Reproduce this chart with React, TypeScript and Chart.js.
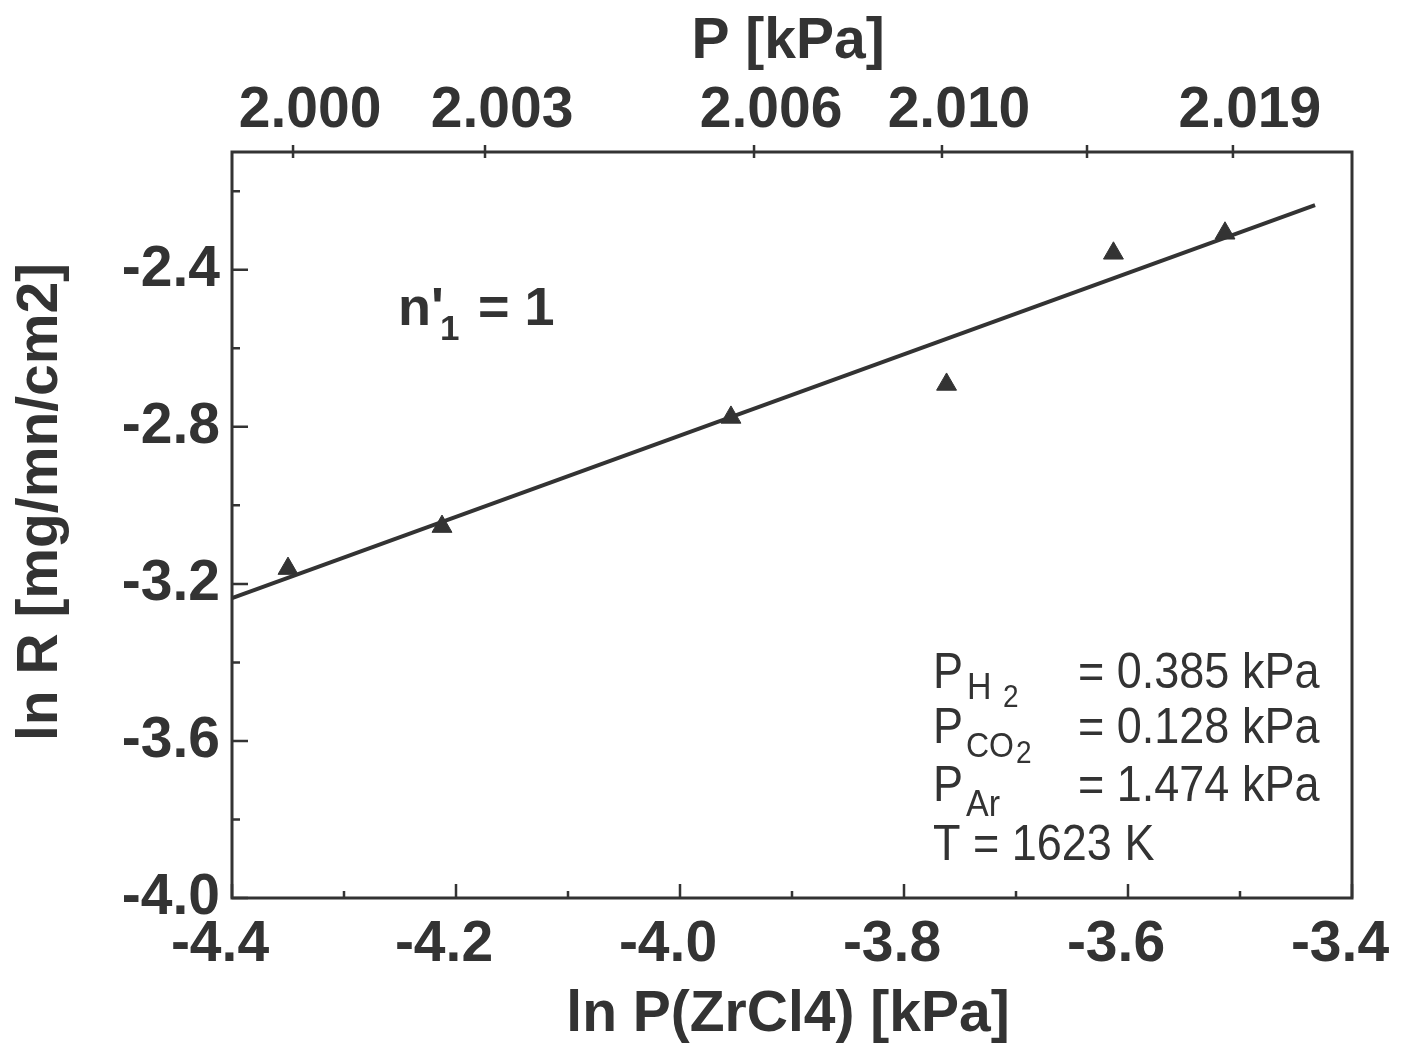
import React, { useEffect, useRef } from "react";
import { Chart, registerables } from "chart.js";

Chart.register(...registerables);

// ---- data ----
const lnP = [-4.35, -4.2125, -3.9545, -3.762, -3.613, -3.5134];
const lnR = [-3.161, -3.054, -2.776, -2.692, -2.358, -2.307];
const fitX = [-4.4, -3.433];
const fitY = [-3.236, -2.235];

const xMajorTicks = [-4.4, -4.2, -4.0, -3.8, -3.6, -3.4];
const xMinorTicks = [-4.3, -4.1, -3.9, -3.7, -3.5];
const yMajorTicks = [-4.0, -3.6, -3.2, -2.8, -2.4];
const yMinorTicks = [-3.8, -3.4, -3.0, -2.6, -2.2];
const topTickPositions = [-4.3455, -4.1741, -3.9339, -3.7661, -3.6366, -3.5063];
const topTickLabels = ["2.000", "2.003", "2.006", "2.010", "", "2.019"];

const legendMain = ["P", "P", "P", "T = 1623 K"];
const legendSub = [["H", "2"], ["CO", "2"], ["Ar"], []];
const legendValues = ["= 0.385 kPa", "= 0.128 kPa", "= 1.474 kPa", ""];

const INK = "#333333";
const FONT = "'Liberation Sans', Arial, Helvetica, sans-serif";

const framePlugin = {
  id: "frameAndText",
  afterDraw(chart: any) {
    const ctx = chart.ctx as CanvasRenderingContext2D;
    const { left, right, top, bottom } = chart.chartArea;
    const xs = chart.scales.x;
    const ys = chart.scales.y;
    ctx.save();
    ctx.strokeStyle = INK;
    ctx.lineWidth = 3;
    ctx.strokeRect(left, top, right - left, bottom - top);
    ctx.lineWidth = 2.5;
    ctx.beginPath();
    yMajorTicks.forEach((v) => {
      const p = ys.getPixelForValue(v);
      ctx.moveTo(left, p);
      ctx.lineTo(left + 16, p);
    });
    yMinorTicks.forEach((v) => {
      const p = ys.getPixelForValue(v);
      ctx.moveTo(left, p);
      ctx.lineTo(left + 8, p);
    });
    xMajorTicks.forEach((v) => {
      const p = xs.getPixelForValue(v);
      ctx.moveTo(p, bottom);
      ctx.lineTo(p, bottom - 14);
    });
    xMinorTicks.forEach((v) => {
      const p = xs.getPixelForValue(v);
      ctx.moveTo(p, bottom);
      ctx.lineTo(p, bottom - 7);
    });
    topTickPositions.forEach((v) => {
      const p = xs.getPixelForValue(v);
      ctx.moveTo(p, top - 7);
      ctx.lineTo(p, top + 6);
    });
    ctx.stroke();

    // titles
    ctx.fillStyle = INK;
    ctx.font = `bold 57px ${FONT}`;
    ctx.textAlign = "center";
    ctx.textBaseline = "alphabetic";
    ctx.fillText("ln P(ZrCl4) [kPa]", 788, 1031);
    ctx.fillText("P [kPa]", 788, 58);
    ctx.save();
    ctx.translate(57, 502);
    ctx.rotate(-Math.PI / 2);
    ctx.fillText("ln R [mg/mn/cm2]", 0, 0);
    ctx.restore();

    // n'1 = 1
    ctx.textAlign = "left";
    ctx.font = `bold 54px ${FONT}`;
    ctx.fillText("n'", 398, 325);
    ctx.font = `bold 35px ${FONT}`;
    ctx.fillText("1", 440, 340);
    ctx.font = `bold 54px ${FONT}`;
    ctx.fillText("= 1", 478, 325);

    // legend text (slightly tall glyphs)
    const baselines = [688, 743, 801, 860];
    const subBase = [[699, 707], [757, 763], [816], []];
    const subX = [[967, 1003], [966, 1016], [966], []];
    const subSize = [[34, 28], [32, 28], [34], []];
    const drawStretched = (t: string, x: number, y: number, size: number) => {
      ctx.save();
      ctx.translate(x, y);
      ctx.scale(1, 1.1);
      ctx.font = `${size}px ${FONT}`;
      ctx.fillText(t, 0, 0);
      ctx.restore();
    };
    legendMain.forEach((t, i) => {
      drawStretched(t, 933, baselines[i], 45);
      legendSub[i].forEach((s, j) => {
        drawStretched(s, subX[i][j], subBase[i][j], subSize[i][j]);
      });
      if (legendValues[i]) drawStretched(legendValues[i], 1078, baselines[i], 45);
    });
    ctx.restore();
  },
};

export default function App() {
  const ref = useRef<HTMLCanvasElement | null>(null);
  useEffect(() => {
    if (!ref.current) return;
    const chart = new Chart(ref.current, {
      type: "scatter",
      data: {
        datasets: [
          {
            label: "data",
            data: lnP.map((x, i) => ({ x, y: lnR[i] })),
            pointStyle: "triangle",
            pointRadius: 11.5,
            pointBackgroundColor: INK,
            pointBorderColor: INK,
            pointBorderWidth: 1,
            showLine: false,
          },
          {
            label: "fit",
            data: fitX.map((x, i) => ({ x, y: fitY[i] })),
            showLine: true,
            borderColor: INK,
            borderWidth: 4,
            pointRadius: 0,
          },
        ],
      },
      options: {
        animation: false,
        responsive: false,
        devicePixelRatio: 1,
        layout: { padding: { left: 0, right: 56, top: 0, bottom: 0 } },
        plugins: { legend: { display: false }, tooltip: { enabled: false } },
        scales: {
          x: {
            type: "linear",
            position: "bottom",
            min: -4.4,
            max: -3.4,
            afterBuildTicks: (s: any) => {
              s.ticks = xMajorTicks.map((v) => ({ value: v }));
            },
            afterFit: (s: any) => {
              s.height = 155;
              s.paddingLeft = 0;
              s.paddingRight = 0;
            },
            grid: { display: false, drawTicks: false },
            border: { display: false },
            ticks: {
              color: INK,
              font: { family: FONT, size: 57, weight: "bold" },
              padding: 13,
              labelOffset: -12,
              maxRotation: 0,
              autoSkip: false,
              callback: (v: any) => Number(v).toFixed(1),
            },
          },
          x2: {
            type: "linear",
            position: "top",
            min: -4.4,
            max: -3.4,
            afterBuildTicks: (s: any) => {
              s.ticks = topTickPositions.map((v) => ({ value: v }));
            },
            afterFit: (s: any) => {
              s.height = 152;
              s.paddingLeft = 0;
              s.paddingRight = 0;
            },
            grid: { display: false, drawTicks: false },
            border: { display: false },
            ticks: {
              color: INK,
              font: { family: FONT, size: 57, weight: "bold" },
              padding: 7,
              labelOffset: 17,
              maxRotation: 0,
              autoSkip: false,
              callback: (_v: any, i: number) => topTickLabels[i],
            },
          },
          y: {
            type: "linear",
            min: -4.0,
            max: -2.1,
            afterBuildTicks: (s: any) => {
              s.ticks = yMajorTicks.map((v) => ({ value: v }));
            },
            afterFit: (s: any) => {
              s.width = 232;
              s.paddingTop = 0;
              s.paddingBottom = 0;
            },
            grid: { display: false, drawTicks: false },
            border: { display: false },
            ticks: {
              color: INK,
              font: { family: FONT, size: 57, weight: "bold" },
              padding: 12,
              autoSkip: false,
              callback: (v: any) => Number(v).toFixed(1),
            },
          },
        },
      } as any,
      plugins: [framePlugin],
    });
    return () => chart.destroy();
  }, []);
  return (
    <div style={{ position: "absolute", left: 0, top: 0, width: 1408, height: 1053, background: "#fff" }}>
      <canvas ref={ref} width={1408} height={1053} style={{ display: "block" }} />
    </div>
  );
}
